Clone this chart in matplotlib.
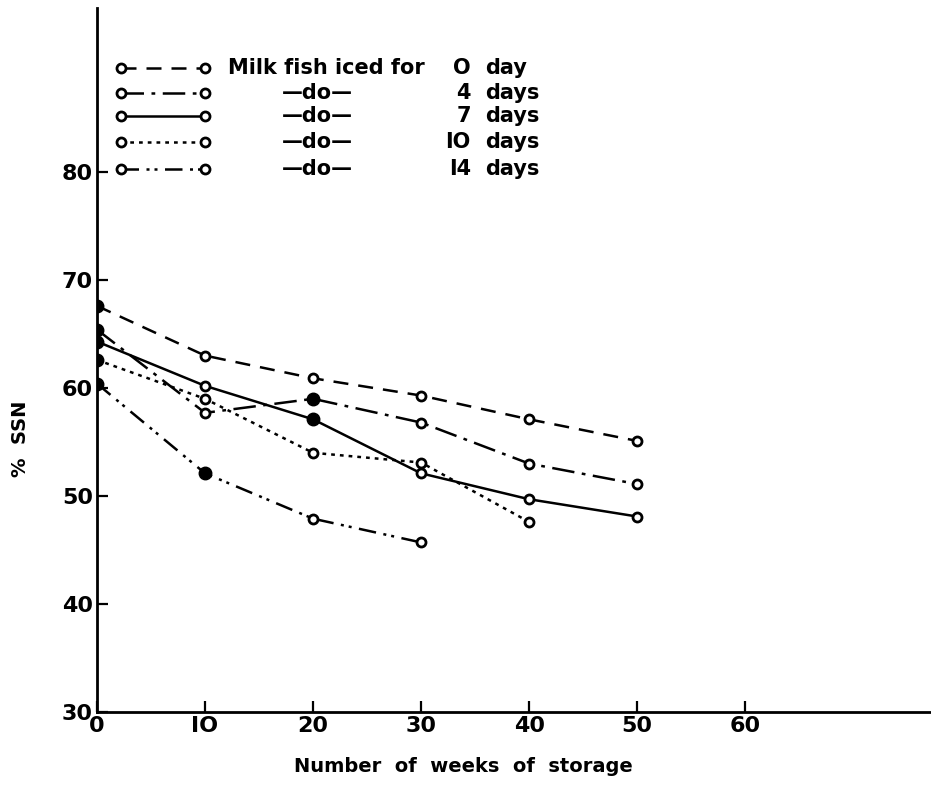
import matplotlib.pyplot as plt

weeks = [0, 10, 20, 30, 40, 50]

ssn_0day = [67.6, 63.0, 60.9, 59.3, 57.1, 55.1]
ssn_4days = [65.4, 57.7, 59.0, 56.8, 53.0, 51.1]
ssn_7days = [64.3, 60.2, 57.1, 52.1, 49.7, 48.1]
ssn_10days = [62.6, 59.0, 54.0, 53.1, 47.6]
ssn_14days = [60.4, 52.1, 47.9, 45.7]

# points drawn as solid dots in the original
filled_0day = [True, False, False, False, False, False]
filled_4days = [True, False, True, False, False, False]
filled_7days = [True, False, True, False, False, False]
filled_10days = [True, False, False, False, False]
filled_14days = [True, True, False, False]

legend_num = ['O', '4', '7', 'IO', 'I4']
legend_unit = ['day', 'days', 'days', 'days', 'days']

styles = [(0, (6, 4)), (0, (9, 3, 1.5, 3)), '-', (0, (1.5, 2)), (0, (7, 3, 1.2, 2, 1.2, 3))]
series = [ssn_0day, ssn_4days, ssn_7days, ssn_10days, ssn_14days]
filled = [filled_0day, filled_4days, filled_7days, filled_10days, filled_14days]

fnt = dict(family='DejaVu Sans', weight='bold')

fig = plt.figure(figsize=(9.31, 7.85), dpi=100)
ax = fig.add_axes([0.1042, 0.093, 0.8958, 0.897])

for vals, ls, fl in zip(series, styles, filled):
    x = weeks[:len(vals)]
    ax.plot(x, vals, color='black', lw=1.8, linestyle=ls, zorder=2)
    xo = [a for a, f in zip(x, fl) if not f]
    yo = [b for b, f in zip(vals, fl) if not f]
    xf = [a for a, f in zip(x, fl) if f]
    yf = [b for b, f in zip(vals, fl) if f]
    ax.plot(xo, yo, 'o', ms=6.5, mfc='white', mec='black', mew=2, zorder=3)
    ax.plot(xf, yf, 'o', ms=9, mfc='black', mec='black', zorder=3)

# hand drawn legend
legend_y = [89.6, 87.3, 85.2, 82.8, 80.3]
for i, (ly, ls) in enumerate(zip(legend_y, styles)):
    ax.plot([2.2, 10.0], [ly, ly], color='black', lw=1.8, linestyle=ls, zorder=2)
    ax.plot([2.2, 10.0], [ly, ly], 'o', ms=6.5, mfc='white', mec='black', mew=2, zorder=3)
    if i == 0:
        ax.text(12.1, ly, 'Milk fish iced for', fontsize=15, va='center', ha='left', **fnt)
    else:
        ax.text(20.4, ly, '\u2014do\u2014', fontsize=15, va='center', ha='center', **fnt)
    ax.text(34.6, ly, legend_num[i], fontsize=15, va='center', ha='right', **fnt)
    ax.text(35.9, ly, legend_unit[i], fontsize=15, va='center', ha='left', **fnt)

ax.set_xlim(0, 77.2)
ax.set_ylim(30, 95.2)
ax.set_xticks([0, 10, 20, 30, 40, 50, 60])
ax.set_xticklabels(['0', 'IO', '20', '30', '40', '50', '60'], **fnt)
ax.set_yticks([30, 40, 50, 60, 70, 80])
ax.set_yticklabels(['30', '40', '50', '60', '70', '80'], **fnt)
ax.tick_params(direction='in', length=8, width=1.6, labelsize=16, pad=3)
ax.spines['top'].set_visible(False)
ax.spines['right'].set_visible(False)
ax.spines['left'].set_linewidth(2)
ax.spines['bottom'].set_linewidth(2)

ax.set_xlabel('Number  of  weeks  of  storage', fontsize=14, **fnt)
ax.set_ylabel('%  SSN', fontsize=14, **fnt)
ax.xaxis.set_label_coords(0.439, -0.064)
ax.yaxis.set_label_coords(-0.08, 0.388)

fig.savefig('out.png', dpi=100)
